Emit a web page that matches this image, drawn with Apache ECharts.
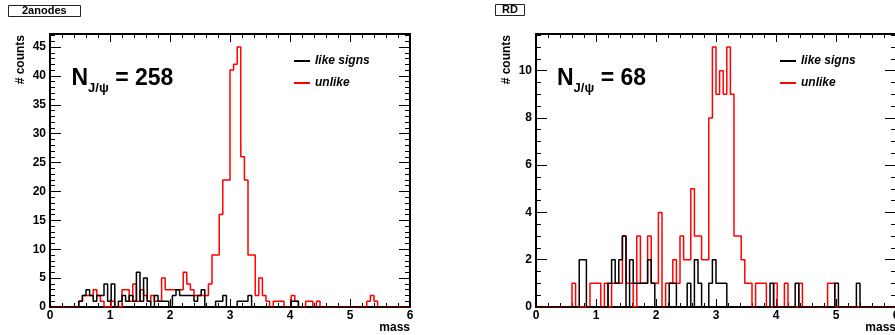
<!DOCTYPE html>
<html>
<head>
<meta charset="utf-8">
<script src="https://cdn.jsdelivr.net/npm/echarts@6/dist/echarts.min.js"></script>
<style>
html,body{margin:0;padding:0;background:#fff;}
#chart{width:895px;height:335px;}
</style>
</head>
<body>
<div id="chart"></div>
<script>
// Histogram binning: 100 bins from 0 to 6 (mass)
const BIN_WIDTH = 0.06;
const X_TICKS = [0, 1, 2, 3, 4, 5, 6];

// Panel titles and annotations
const panelTitles = ['2anodes', 'RD'];
const nJpsi = [258, 68];
const seriesNames = ['like signs', 'unlike'];

// Panel "2anodes": counts per bin
const anodesLike = [
  0,0,0,0,0,0,0,0,1,2, 3,2,1,2,2,4,1,4,0,1, 2,1,2,1,6,1,5,1,0,2,
  1,1,1,0,2,3,2,2,2,2, 1,2,3,0,0,0,1,1,2,0, 0,0,1,1,1,2,0,0,0,0,
  0,0,0,0,0,0,0,1,1,0, 0,0,0,0,0,0,0,0,0,0, 0,0,0,0,0,0,0,0,0,0,
  0,0,0,0,0,0,0,0,0,0
];
const anodesUnlike = [
  0,0,0,0,0,0,0,0,1,2, 2,2,3,2,1,0,0,1,0,0, 3,3,1,4,1,3,2,1,2,1,
  1,5,3,3,3,3,3,6,4,3, 2,2,2,2,4,9,9,16,22,22, 41,42,45,26,22,9,9,2,5,2,
  1,0,1,1,1,0,0,2,1,0, 0,1,1,0,1,0,0,0,0,0, 0,0,0,0,0,0,0,0,1,2,
  1,0,0,0,0,0,0,0,0,0
];

// Panel "RD": counts per bin
const rdLike = [
  0,0,0,0,0,0,0,0,0,0, 0,0,2,2,0,0,0,0,0,0, 1,2,1,2,3,0,2,1,1,1,
  1,2,1,0,0,0,0,1,1,0, 0,0,1,0,2,1,0,0,1,2, 1,1,1,0,0,0,0,0,0,0,
  0,0,0,0,0,1,0,0,0,0, 0,0,1,0,0,0,0,0,0,0, 0,0,0,1,0,0,0,0,0,1,
  0,0,0,0,0,0,0,0,0,0
];
const rdUnlike = [
  0,0,0,0,0,0,0,0,0,0, 1,0,0,0,0,1,1,1,0,1, 0,1,1,1,3,1,1,0,3,1,
  1,3,1,1,4,0,1,1,2,1, 3,2,2,5,3,3,2,2,8,11, 9,10,9,11,9,3,3,2,1,1,
  0,1,1,1,0,0,1,0,0,1, 0,0,0,1,0,0,0,0,0,0, 0,1,1,0,0,0,0,0,0,0,
  0,0,0,0,0,0,0,0,0,0
];

function toSteps(counts) {
  const pts = counts.map((c, i) => [+(i * BIN_WIDTH).toFixed(4), c]);
  pts.push([+(counts.length * BIN_WIDTH).toFixed(4), counts[counts.length - 1]]);
  return pts;
}

const FONT = "'Liberation Sans', Arial, Helvetica, sans-serif";
const BLACK = '#000000';
const RED = '#ff0000';

const grids = [
  {left: 50, top: 34, width: 360, height: 273, outerBoundsMode: 'none', containLabel: false},
  {left: 536, top: 34, width: 360, height: 273, outerBoundsMode: 'none', containLabel: false}
];
const yMax = [47.25, 11.55];
const yInterval = [5, 2];
const yMinorSplit = [5, 4];

function xAxisCfg(grid, pos) {
  return {
    type: 'value', gridIndex: grid, position: pos, min: 0, max: 6, interval: 1,
    axisLine: {show: true, onZero: false, lineStyle: {color: BLACK, width: 2}},
    axisTick: {show: true, inside: true, length: 8, lineStyle: {color: BLACK, width: 1}},
    minorTick: {show: true, splitNumber: 5, length: 4, lineStyle: {color: BLACK, width: 1}},
    axisLabel: {show: pos === 'bottom', margin: 3, color: BLACK, fontFamily: FONT, fontWeight: 'bold', fontSize: 12},
    splitLine: {show: false}
  };
}
function yAxisCfg(grid, pos) {
  return {
    type: 'value', gridIndex: grid, position: pos, min: 0, max: yMax[grid], interval: yInterval[grid],
    axisLine: {show: true, onZero: false, lineStyle: {color: BLACK, width: 2}},
    axisTick: {show: true, inside: true, length: 11, lineStyle: {color: BLACK, width: 1}},
    minorTick: {show: true, splitNumber: yMinorSplit[grid], length: 5, lineStyle: {color: BLACK, width: 1}},
    axisLabel: {show: pos === 'left', showMaxLabel: false, margin: 4, color: BLACK, fontFamily: FONT, fontWeight: 'bold', fontSize: 12},
    splitLine: {show: false}
  };
}

function histSeries(name, counts, color, xi, yi, z) {
  return {
    name: name, type: 'line', step: 'end', symbol: 'none', showSymbol: false,
    xAxisIndex: xi, yAxisIndex: yi, z: z, color: color,
    lineStyle: {color: color, width: 1.5},
    data: toSteps(counts), animation: false, silent: true
  };
}

function nLabel(x, val) {
  return {
    type: 'text', x: x, y: 95, silent: true,
    style: {
      text: '{n|N}{s|J/ψ}{e| = ' + val + '}',
      verticalAlign: 'bottom', align: 'left',
      rich: {
        n: {fontFamily: FONT, fontWeight: 'bold', fontSize: 23, fill: BLACK, verticalAlign: 'bottom', padding: [0, 0, 5, 0]},
        s: {fontFamily: FONT, fontWeight: 'bold', fontSize: 13, fill: BLACK, verticalAlign: 'bottom'},
        e: {fontFamily: FONT, fontWeight: 'bold', fontSize: 23, fill: BLACK, verticalAlign: 'bottom', padding: [0, 0, 5, 0]}
      }
    }
  };
}

function axisNameTexts(g) {
  return [
    {type: 'text', x: g.left + g.width, y: 327.5, silent: true,
     style: {text: 'mass', align: 'right', verticalAlign: 'middle', fontFamily: FONT, fontWeight: 'bold', fontSize: 12, fill: BLACK}},
    {type: 'text', x: g.left - 29, y: 35, rotation: Math.PI / 2, silent: true,
     style: {text: '# counts', align: 'right', verticalAlign: 'middle', fontFamily: FONT, fontWeight: 'bold', fontSize: 12, fill: BLACK}}
  ];
}

const chart = echarts.init(document.getElementById('chart'), null, {renderer: 'canvas'});
chart.setOption({
  backgroundColor: '#ffffff',
  animation: false,
  title: [
    {text: panelTitles[0], left: 8, top: 5, padding: [0, 14], borderColor: '#222', borderWidth: 1,
     textStyle: {fontFamily: FONT, fontWeight: 'bold', fontSize: 11, color: BLACK, lineHeight: 12}},
    {text: panelTitles[1], left: 495, top: 4, padding: [0, 7], borderColor: '#222', borderWidth: 1,
     textStyle: {fontFamily: FONT, fontWeight: 'bold', fontSize: 11, color: BLACK, lineHeight: 12}}
  ],
  legend: [
    {data: seriesNames, orient: 'vertical', left: 294, top: 55, padding: 0, itemGap: 10,
     itemWidth: 16, itemHeight: 2, icon: 'rect', selectedMode: false,
     textStyle: {fontFamily: FONT, fontWeight: 'bold', fontStyle: 'italic', fontSize: 12, color: BLACK}},
    {data: seriesNames, orient: 'vertical', left: 780, top: 55, padding: 0, itemGap: 10,
     itemWidth: 16, itemHeight: 2, icon: 'rect', selectedMode: false,
     textStyle: {fontFamily: FONT, fontWeight: 'bold', fontStyle: 'italic', fontSize: 12, color: BLACK}}
  ],
  grid: grids,
  xAxis: [xAxisCfg(0, 'bottom'), xAxisCfg(0, 'top'), xAxisCfg(1, 'bottom'), xAxisCfg(1, 'top')],
  yAxis: [yAxisCfg(0, 'left'), yAxisCfg(0, 'right'), yAxisCfg(1, 'left'), yAxisCfg(1, 'right')],
  series: [
    histSeries(seriesNames[1], anodesUnlike, RED, 0, 0, 3),
    histSeries(seriesNames[0], anodesLike, BLACK, 0, 0, 4),
    histSeries(seriesNames[1], rdUnlike, RED, 2, 2, 3),
    histSeries(seriesNames[0], rdLike, BLACK, 2, 2, 4)
  ],
  graphic: [
    nLabel(71.5, nJpsi[0]),
    nLabel(557, nJpsi[1]),
    ...axisNameTexts(grids[0]),
    ...axisNameTexts(grids[1])
  ]
});
</script>
</body>
</html>
